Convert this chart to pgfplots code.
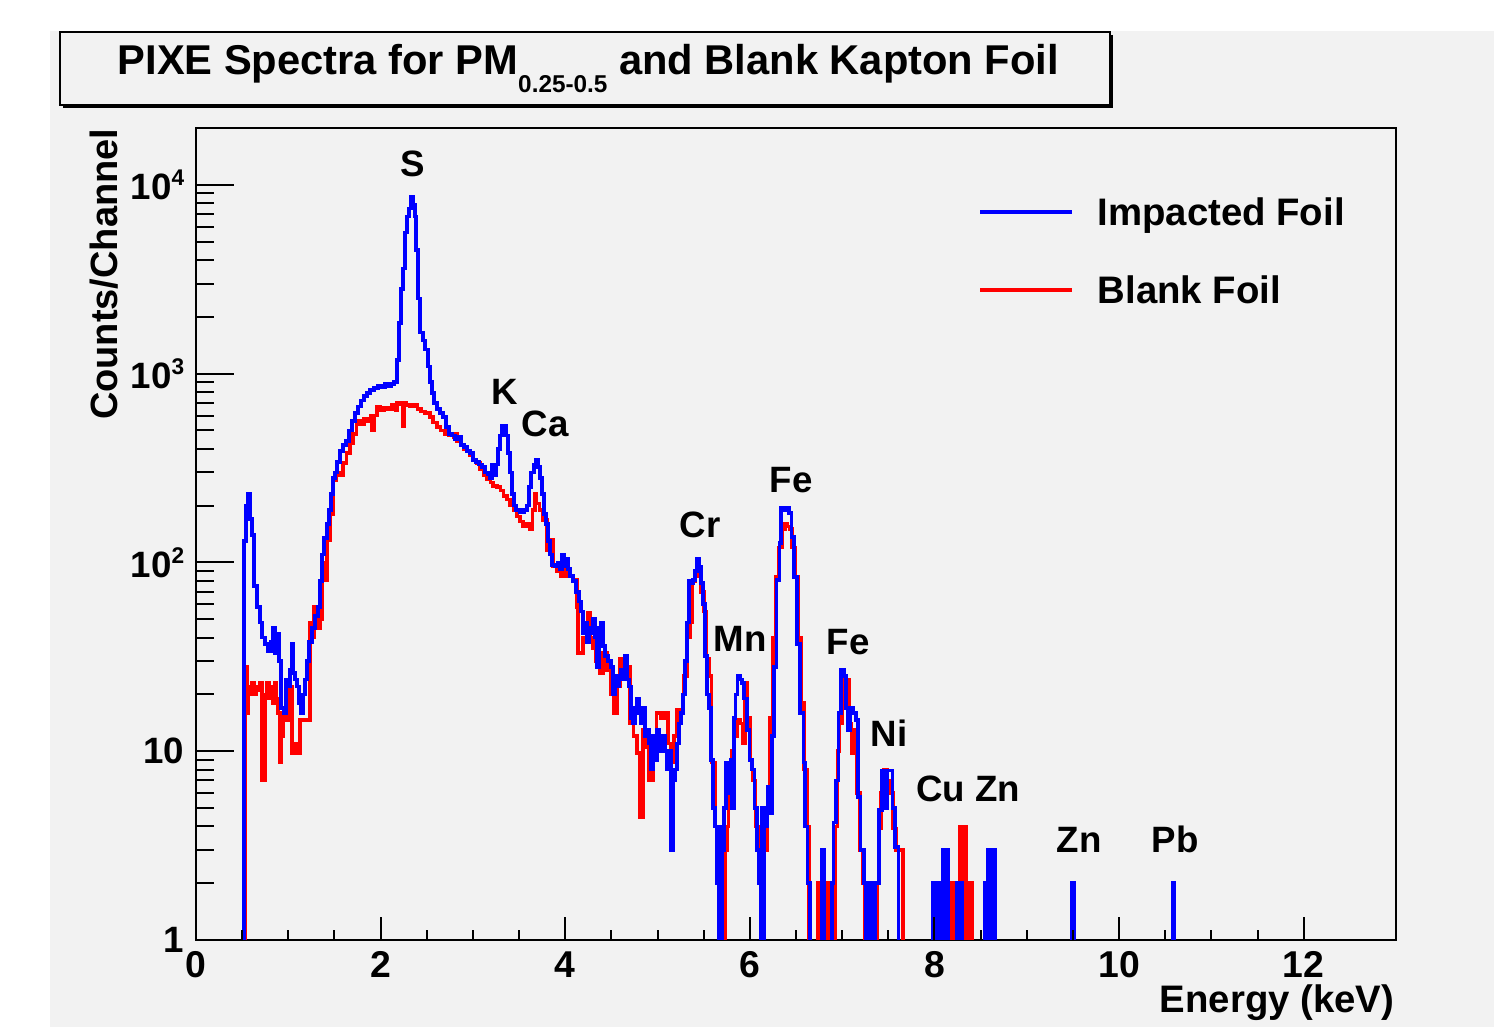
\documentclass[border=0pt]{standalone}
\usepackage{fontspec}
\setmainfont{Liberation Sans}
\usepackage{pgfplots}
\pgfplotsset{compat=1.18}
\definecolor{canvas}{RGB}{242,242,242}
\begin{document}
\begin{tikzpicture}[font=\bfseries]
\useasboundingbox (0,0) rectangle (448.2pt,308.1pt);
\fill[white] (0,0) rectangle (448.2pt,308.1pt);
\fill[canvas] (15pt,0) rectangle (448.2pt,298.8pt);
% title box with shadow
\fill[black] (18.9pt,275.7pt) rectangle (333.9pt,297.6pt);
\draw[line width=0.6pt, fill=canvas] (18pt,276.6pt) rectangle (333pt,298.5pt);
\node[anchor=base west, inner sep=0, font=\bfseries\fontsize{12.5}{14}\selectfont] at (35.1pt,285.6pt)
  {PIXE Spectra for PM\raisebox{-5.4pt}{\fontsize{7.3}{8}\selectfont 0.25-0.5} and Blank Kapton Foil};

\begin{axis}[
  at={(58.8pt,26.1pt)}, anchor=south west,
  scale only axis, width=360pt, height=243.6pt,
  xmin=0, xmax=13, ymin=1, ymax=20000, ymode=log,
  axis background/.style={fill=canvas},
  axis line style={line width=0.6pt},
  tick style={black, line width=0.6pt},
  tick align=inside, tick pos=left,
  xtick=\empty,
  ytick={1,10,100,1000,10000},
  yticklabels={1,10,{10\raisebox{4.2pt}{\fontsize{6.8}{7}\selectfont 2}},{10\raisebox{4.2pt}{\fontsize{6.8}{7}\selectfont 3}},{10\raisebox{4.2pt}{\fontsize{6.8}{7}\selectfont 4}}},
  minor ytick={2,3,4,5,6,7,8,9,20,30,40,50,60,70,80,90,200,300,400,500,600,700,800,900,2000,3000,4000,5000,6000,7000,8000,9000},
  major tick length=11.3pt, minor tick length=5.5pt,
  yticklabel style={font=\bfseries\fontsize{11}{12}\selectfont},
]
\addplot[red, line width=1.1pt, const plot] coordinates {
(0.50,0.1)(0.535,28)(0.55,16)(0.57,22)(0.59,20)(0.61,23)(0.63,20)(0.65,22)(0.67,21)(0.69,23)(0.715,7)(0.745,20)(0.77,23)(0.79,19)(0.81,22)(0.83,18)(0.85,23)(0.87,19)(0.89,16)(0.905,8.7)(0.92,12)(0.94,16)(0.97,14.6)(1.00,16)(1.02,22)(1.04,9.8)(1.07,11)(1.10,9.8)(1.13,14.6)(1.235,48)(1.26,40)(1.28,58)(1.31,45)(1.34,50)(1.365,100)(1.39,81)(1.42,131)(1.45,180)(1.485,272)(1.52,300)(1.55,290)(1.59,335)(1.63,380)(1.67,430)(1.70,480)(1.74,560)(1.78,540)(1.82,575)(1.86,560)(1.89,600)(1.91,500)(1.93,600)(1.96,670)(2.00,640)(2.04,660)(2.08,650)(2.12,680)(2.16,640)(2.18,700)(2.21,690)(2.24,525)(2.255,700)(2.28,680)(2.32,670)(2.36,680)(2.40,650)(2.44,630)(2.48,620)(2.535,590)(2.57,550)(2.61,520)(2.65,500)(2.70,480)(2.74,470)(2.79,460)(2.82,480)(2.83,440)(2.87,420)(2.90,400)(2.94,390)(2.97,370)(3.00,350)(3.04,335)(3.08,310)(3.12,290)(3.15,275)(3.19,265)(3.22,255)(3.26,250)(3.30,240)(3.33,225)(3.37,215)(3.40,200)(3.44,190)(3.48,175)(3.51,165)(3.54,155)(3.58,160)(3.62,150)(3.645,190)(3.67,230)(3.69,205)(3.72,190)(3.76,168)(3.80,116)(3.83,131)(3.87,95)(3.91,90)(3.95,85)(3.99,95)(4.03,85)(4.08,81)(4.13,58)(4.14,33)(4.19,40)(4.24,54)(4.27,40)(4.30,35)(4.33,30)(4.37,26)(4.41,33)(4.45,27)(4.49,20)(4.53,16)(4.56,22)(4.59,31)(4.62,24)(4.67,28)(4.70,14)(4.74,12)(4.78,9.8)(4.81,4.5)(4.84,13)(4.87,10.5)(4.91,7)(4.95,10)(4.99,16)(5.04,15)(5.08,16)(5.11,11)(5.14,8.7)(5.18,12)(5.21,16.5)(5.25,16)(5.28,25)(5.32,40)(5.35,48)(5.375,80)(5.41,85)(5.43,90)(5.45,88)(5.47,70)(5.50,55)(5.53,31)(5.56,25)(5.585,8.7)(5.62,4)(5.66,3.8)(5.70,0.1)(5.73,3)(5.75,4)(5.77,7)(5.80,10)(5.83,12)(5.86,14.6)(5.89,14)(5.92,11)(5.95,23)(5.97,15)(6.00,9)(6.03,7)(6.06,4)(6.09,3)(6.12,2)(6.14,0.1)(6.16,3)(6.19,5)(6.22,15)(6.25,40)(6.28,84)(6.31,120)(6.35,150)(6.38,160)(6.40,155)(6.43,150)(6.46,120)(6.49,84)(6.52,40)(6.555,18)(6.59,8)(6.62,4)(6.64,0.1)(6.74,2)(6.76,0.1)(6.85,2)(6.87,0.1)(6.92,4)(6.95,10)(6.97,14)(7.00,24)(7.03,22)(7.05,24)(7.08,14)(7.10,9.8)(7.13,13)(7.16,6)(7.19,3)(7.22,2)(7.25,0.1)(7.38,2)(7.40,3.9)(7.42,6)(7.45,8)(7.49,7)(7.52,6)(7.55,3.9)(7.58,3)(7.66,0.1)(8.15,2)(8.17,0.1)(8.18,2)(8.20,0.1)(8.21,2)(8.23,0.1)(8.24,2)(8.26,0.1)(8.28,4)(8.30,0.1)(8.31,4)(8.34,0.1)(8.36,2)(8.38,0.1)(8.39,2)(8.41,0.1)(13,0.1)
};
\addplot[blue, line width=1.1pt, const plot] coordinates {
(0.50,0.1)(0.52,130)(0.54,200)(0.56,230)(0.585,170)(0.61,140)(0.63,75)(0.66,58)(0.69,48)(0.715,40)(0.75,37)(0.78,34)(0.81,38)(0.835,45)(0.855,33)(0.88,42)(0.90,30)(0.92,17)(0.95,16)(0.975,24)(1.00,22)(1.02,27)(1.04,37)(1.05,26)(1.07,24)(1.095,22)(1.115,18)(1.14,16)(1.16,20)(1.18,24)(1.20,30)(1.225,38)(1.255,45)(1.29,52)(1.32,58)(1.345,80)(1.365,110)(1.385,135)(1.42,160)(1.44,190)(1.46,230)(1.485,280)(1.505,300)(1.53,340)(1.56,390)(1.59,420)(1.625,440)(1.655,500)(1.69,560)(1.72,620)(1.755,670)(1.79,720)(1.82,760)(1.85,790)(1.885,820)(1.93,840)(1.97,860)(2.015,850)(2.05,880)(2.08,860)(2.11,880)(2.145,900)(2.175,1180)(2.20,1860)(2.22,2800)(2.24,3600)(2.265,5600)(2.285,6800)(2.305,7500)(2.33,8600)(2.35,7800)(2.37,6800)(2.385,4500)(2.405,2500)(2.425,1650)(2.46,1500)(2.48,1340)(2.515,1090)(2.535,900)(2.555,790)(2.58,700)(2.61,650)(2.645,620)(2.675,590)(2.71,520)(2.74,480)(2.775,470)(2.805,450)(2.84,460)(2.87,420)(2.905,410)(2.935,390)(2.97,380)(3.00,350)(3.035,340)(3.065,330)(3.10,320)(3.13,300)(3.165,295)(3.185,280)(3.205,330)(3.23,290)(3.25,330)(3.27,400)(3.295,470)(3.315,530)(3.335,530)(3.36,470)(3.38,380)(3.40,300)(3.425,230)(3.445,200)(3.465,190)(3.51,185)(3.555,190)(3.585,200)(3.61,250)(3.63,300)(3.66,330)(3.685,350)(3.705,320)(3.725,280)(3.75,230)(3.77,180)(3.79,160)(3.815,130)(3.835,110)(3.855,97)(3.89,95)(3.92,100)(3.945,92)(3.965,110)(3.985,95)(4.01,105)(4.03,92)(4.05,85)(4.085,80)(4.115,70)(4.15,62)(4.17,55)(4.19,42)(4.215,48)(4.235,38)(4.255,45)(4.28,42)(4.30,50)(4.32,40)(4.345,28)(4.365,45)(4.39,48)(4.41,36)(4.43,32)(4.465,30)(4.495,28)(4.515,20)(4.54,25)(4.56,22)(4.58,24)(4.605,27)(4.625,24)(4.645,32)(4.67,24)(4.69,22)(4.71,15)(4.735,14)(4.755,17)(4.78,19)(4.80,16)(4.82,14)(4.84,17)(4.865,12)(4.885,13)(4.905,11)(4.93,8)(4.95,12)(4.97,9)(4.995,13)(5.015,11)(5.035,10)(5.06,12)(5.08,10)(5.10,8)(5.125,10)(5.145,3)(5.165,7)(5.19,8)(5.21,11)(5.23,14)(5.255,16)(5.275,20)(5.295,30)(5.32,48)(5.34,80)(5.36,78)(5.385,81)(5.405,90)(5.425,104)(5.45,95)(5.47,78)(5.49,60)(5.515,32)(5.535,20)(5.555,17)(5.58,9)(5.60,5)(5.625,4)(5.645,2)(5.665,0.1)(5.68,4)(5.695,0.1)(5.70,3)(5.72,5)(5.745,8.7)(5.77,6)(5.79,9)(5.81,5)(5.825,15)(5.845,20)(5.865,25)(5.89,24)(5.915,23)(5.94,19)(5.97,13)(5.995,9)(6.02,8)(6.05,5)(6.08,3)(6.10,2)(6.12,0.1)(6.135,5)(6.15,0.1)(6.16,4)(6.19,6.5)(6.215,4.7)(6.24,12)(6.265,28)(6.29,81)(6.32,127)(6.34,195)(6.37,190)(6.40,195)(6.425,183)(6.45,136)(6.48,84)(6.51,37)(6.545,16)(6.58,8.7)(6.60,4)(6.625,2)(6.65,0.1)(6.78,3)(6.80,0.1)(6.89,2)(6.905,4.2)(6.93,7)(6.96,16)(6.99,27)(7.02,25)(7.04,17)(7.065,13)(7.09,17)(7.12,16)(7.15,14.6)(7.175,5.7)(7.20,3)(7.24,2)(7.26,0.1)(7.27,2)(7.29,0.1)(7.30,2)(7.32,0.1)(7.33,2)(7.35,0.1)(7.36,2)(7.40,4.9)(7.43,7.9)(7.47,5)(7.49,7.9)(7.52,7.9)(7.545,5)(7.57,3.1)(7.61,0.1)(7.98,2)(8.00,0.1)(8.01,2)(8.03,0.1)(8.04,2)(8.06,0.1)(8.07,2)(8.09,3)(8.11,0.1)(8.12,3)(8.15,0.1)(8.24,2)(8.26,0.1)(8.27,2)(8.30,0.1)(8.55,2)(8.57,0.1)(8.58,3)(8.60,0.1)(8.61,3)(8.63,0.1)(8.64,3)(8.66,0.1)(9.49,2)(9.51,0.1)(10.58,2)(10.60,0.1)(13,0.1)
};
\end{axis}

\begin{axis}[
  at={(58.8pt,26.1pt)}, anchor=south west,
  scale only axis, width=360pt, height=243.6pt,
  xmin=0, xmax=13, ymin=1, ymax=20000, ymode=log,
  hide y axis, axis line style={draw=none},
  tick style={black, line width=0.6pt},
  tick align=inside, tick pos=left,
  xtick={0,2,4,6,8,10,12}, xticklabels={0,2,4,6,8,10,12},
  minor x tick num=3,
  major tick length=6.9pt, minor tick length=3pt,
  xticklabel style={font=\bfseries\fontsize{11.2}{12}\selectfont},
]
\end{axis}

% axis titles
\node[rotate=90, anchor=base east, inner sep=0, font=\bfseries\fontsize{11.4}{13}\selectfont] at (35.4pt,269.7pt) {Counts/Channel};
\node[anchor=base east, inner sep=0, font=\bfseries\fontsize{11.5}{13}\selectfont] at (418.5pt,4.2pt) {Energy (keV)};

% peak labels
\begin{scope}[every node/.style={anchor=base, inner sep=0, font=\bfseries\fontsize{11}{13}\selectfont}]
\node at (123.9pt,255.0pt) {S};
\node at (151.5pt,186.6pt) {K};
\node at (163.5pt,177.0pt) {Ca};
\node at (210.0pt,146.7pt) {Cr};
\node at (237.3pt,160.2pt) {Fe};
\node at (222.0pt,112.5pt) {Mn};
\node at (254.4pt,111.6pt) {Fe};
\node at (266.7pt,84.0pt) {Ni};
\node at (290.4pt,67.5pt) {Cu Zn};
\node at (323.7pt,52.2pt) {Zn};
\node at (352.5pt,52.2pt) {Pb};
\end{scope}

% legend
\draw[blue, line width=1.1pt] (294pt,244.5pt) -- (321.6pt,244.5pt);
\node[anchor=base west, inner sep=0, font=\bfseries\fontsize{11.5}{13}\selectfont] at (329.1pt,240.3pt) {Impacted Foil};
\draw[red, line width=1.1pt] (294pt,221.1pt) -- (321.6pt,221.1pt);
\node[anchor=base west, inner sep=0, font=\bfseries\fontsize{11.5}{13}\selectfont] at (329.1pt,216.9pt) {Blank Foil};
\end{tikzpicture}
\end{document}
